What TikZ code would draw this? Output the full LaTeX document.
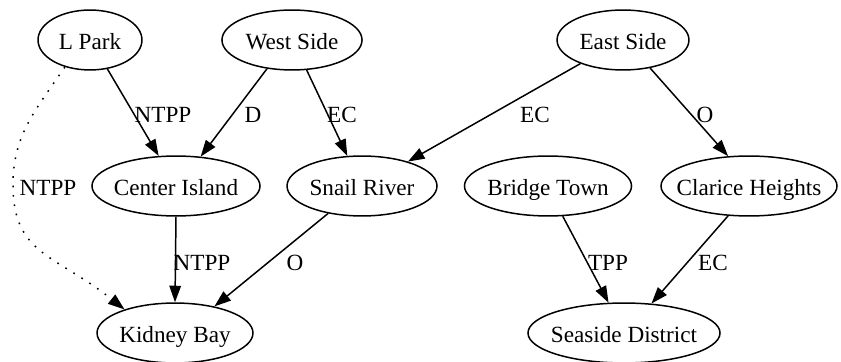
\documentclass[tikz,border=0pt]{standalone}
\usepackage{fontspec}
\setmainfont{Liberation Serif}
\usetikzlibrary{arrows.meta,shapes.geometric}
% zero-width text box, so the ellipse size comes from minimum width only
\newcommand{\nw}[1]{\makebox[0pt]{#1}}

\begin{document}
\begin{tikzpicture}[x=0.604pt,y=-0.604pt,
  place/.style={ellipse, draw, line width=0.9pt, inner sep=0pt,
    minimum height=36.2pt, text height=11pt, text depth=0pt,
    font=\fontsize{14}{16}\selectfont},
  rel/.style={draw, line width=0.9pt, -{Triangle[length=10pt,width=7pt]}},
  vague/.style={rel, dash pattern=on 1pt off 4.7pt},
  tag/.style={inner sep=0pt, font=\fontsize{14}{16}\selectfont},
]
\useasboundingbox[fill=white] (0,0) rectangle (841,362);

% places
\node[place, minimum width=62.8pt]  (lpark)   at (90,40)   {\nw{L Park}};
\node[place, minimum width=84.6pt]  (west)    at (292,40)  {\nw{West Side}};
\node[place, minimum width=79.7pt]  (east)    at (623,40)  {\nw{East Side}};
\node[place, minimum width=101.5pt] (center)  at (176,186) {\nw{Center Island}};
\node[place, minimum width=90.6pt]  (snail)   at (362,186) {\nw{Snail River}};
\node[place, minimum width=100.9pt] (bridge)  at (548,186) {\nw{Bridge Town}};
\node[place, minimum width=106.3pt] (clarice) at (749,186) {\nw{Clarice Heights}};
\node[place, minimum width=94.2pt]  (kidney)  at (175,333) {\nw{Kidney Bay}};
\node[place, minimum width=116pt]   (seaside) at (624,333) {\nw{Seaside District}};

% relations
\draw[rel] (lpark.-59)   -- (center.120);
\draw[rel] (west.-131)   -- (center.50);
\draw[rel] (west.-64)    -- (snail.116);
\draw[rel] (east.-151)   -- (snail.28);
\draw[rel] (east.-46)    -- (clarice.125);
\draw[rel] (center.-90)  -- (kidney.90);
\draw[rel] (snail.-141)  -- (kidney.34);
\draw[rel] (bridge.-64)  -- (seaside.117);
\draw[rel] (clarice.-125) -- (seaside.47);
\draw[vague] (lpark.-133) .. controls (35,111) and (13,135) .. (13,185)
             .. controls (13,255) and (55,254) .. (kidney.155);

% relation labels
\node[tag] (t1)  at (163,115) {NTPP};
\node[tag] (t2)  at (253,115) {D};
\node[tag] (t3)  at (342,115) {EC};
\node[tag] (t4)  at (535,115) {EC};
\node[tag] (t5)  at (705,115) {O};
\node[tag] (t6)  at (48,188)  {NTPP};
\node[tag] (t7)  at (202,263) {NTPP};
\node[tag] (t8)  at (295,263) {O};
\node[tag] (t9)  at (608,263) {TPP};
\node[tag] (t10) at (713,263) {EC};
\end{tikzpicture}
\end{document}
